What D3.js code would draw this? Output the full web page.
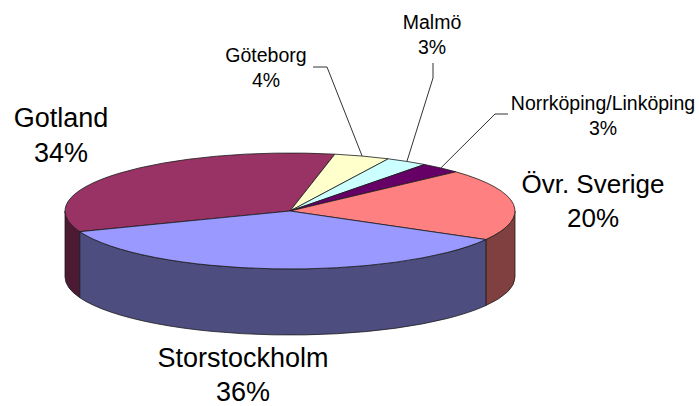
<!DOCTYPE html>
<html>
<head>
<meta charset="utf-8">
<script src="https://cdn.jsdelivr.net/npm/d3@7"></script>
<style>
  body { margin: 0; background: #fff; }
  svg { display: block; }
  text { font-family: "Liberation Sans", Arial, sans-serif; fill: #000; }
</style>
</head>
<body>
<div id="chart"></div>
<script>
// chart data
const regions = ["Gotland", "Göteborg", "Malmö", "Norrköping/Linköping", "Övr. Sverige", "Storstockholm"];
const shares = [34, 4, 3, 3, 20, 36];
const topColors = ["#993366", "#FFFFCC", "#CCFFFF", "#660066", "#FF8080", "#9999FF"];

const width = 699, height = 406;
const cx = 290, cy = 211, rx = 225, ry = 58, depth = 66;
const startDeg = 159.1 + 90; // first slice edge, d3 pie angle

// label layout: text anchor point (centre, first baseline), font size, line gap, leader elbow points
const labelLayout = {
  "Gotland":              { x: 61,  y: 127, size: 27,   gap: 35, leader: null },
  "Göteborg":             { x: 266, y: 62,  size: 19.5, gap: 25, leader: [[313, 67], [327, 67]] },
  "Malmö":                { x: 432, y: 29,  size: 19.5, gap: 25, leader: [[433, 63], [433, 78]] },
  "Norrköping/Linköping": { x: 603, y: 110, size: 19.5, gap: 25, leader: [[508, 114], [495, 114]] },
  "Övr. Sverige":         { x: 593, y: 193, size: 26,   gap: 34, leader: null },
  "Storstockholm":        { x: 243, y: 367, size: 27,   gap: 34, leader: null }
};

const data = regions.map((r, i) => ({ name: r, value: shares[i], color: topColors[i] }));
const total = d3.sum(shares);

const svg = d3.select("#chart").append("svg").attr("width", width).attr("height", height);

const pie = d3.pie().sort(null).value(d => d.value)
  .startAngle(startDeg * Math.PI / 180)
  .endAngle(startDeg * Math.PI / 180 + 2 * Math.PI);
const arcs = pie(data);

// d3 angle (from 12 o'clock) -> screen angle (from 3 o'clock, clockwise)
const toT = a => a - Math.PI / 2;
const pt = (t, dy = 0) => [cx + rx * Math.cos(t), cy + ry * Math.sin(t) + dy];

function halfColor(c) {
  const r = d3.rgb(c);
  return d3.rgb(r.r * 0.5, r.g * 0.5, r.b * 0.5).formatHex();
}

function topPath(t0, t1) {
  const p0 = pt(t0), p1 = pt(t1);
  const large = (t1 - t0) > Math.PI ? 1 : 0;
  return `M${cx},${cy}L${p0}A${rx},${ry} 0 ${large} 1 ${p1}Z`;
}

function wallPath(a, b) {
  const p0 = pt(a), p1 = pt(b), q1 = pt(b, depth), q0 = pt(a, depth);
  return `M${p0}A${rx},${ry} 0 0 1 ${p1}L${q1}A${rx},${ry} 0 0 0 ${q0}Z`;
}

// front walls: the visible part is screen angle 0..PI
const walls = [];
arcs.forEach(d => {
  const t0 = toT(d.startAngle), t1 = toT(d.endAngle);
  [-2, 0, 2, 4].forEach(k => {
    const lo = Math.max(t0, k * Math.PI), hi = Math.min(t1, (k + 1) * Math.PI);
    if (hi - lo > 1e-6) walls.push({ a: lo, b: hi, color: halfColor(d.data.color) });
  });
});

svg.append("g").selectAll("path.wall")
  .data(walls)
  .enter()
  .append("path")
  .attr("class", "wall")
  .attr("d", d => wallPath(d.a, d.b))
  .attr("fill", d => d.color)
  .attr("stroke", "#1a1a1a")
  .attr("stroke-width", 0.8)
  .attr("stroke-linejoin", "round");

svg.append("g").selectAll("path.top")
  .data(arcs)
  .enter()
  .append("path")
  .attr("class", "top")
  .attr("d", d => topPath(toT(d.startAngle), toT(d.endAngle)))
  .attr("fill", d => d.data.color)
  .attr("stroke", "#1a1a1a")
  .attr("stroke-width", 0.8)
  .attr("stroke-linejoin", "round");

// leader lines for the small slices
svg.append("g").selectAll("polyline")
  .data(arcs.filter(d => labelLayout[d.data.name].leader))
  .enter()
  .append("polyline")
  .attr("points", d => {
    const lay = labelLayout[d.data.name];
    const anchor = pt(toT((d.startAngle + d.endAngle) / 2));
    return [...lay.leader, anchor].map(p => p.join(",")).join(" ");
  })
  .attr("fill", "none")
  .attr("stroke", "#333")
  .attr("stroke-width", 1);

// labels
const lbl = svg.append("g").selectAll("text")
  .data(arcs)
  .enter()
  .append("text")
  .attr("text-anchor", "middle")
  .attr("font-size", d => labelLayout[d.data.name].size + "px");

lbl.append("tspan")
  .attr("x", d => labelLayout[d.data.name].x)
  .attr("y", d => labelLayout[d.data.name].y)
  .text(d => d.data.name);

lbl.append("tspan")
  .attr("x", d => labelLayout[d.data.name].x)
  .attr("y", d => labelLayout[d.data.name].y + labelLayout[d.data.name].gap)
  .text(d => Math.round(d.data.value / total * 100) + "%");
</script>
</body>
</html>
